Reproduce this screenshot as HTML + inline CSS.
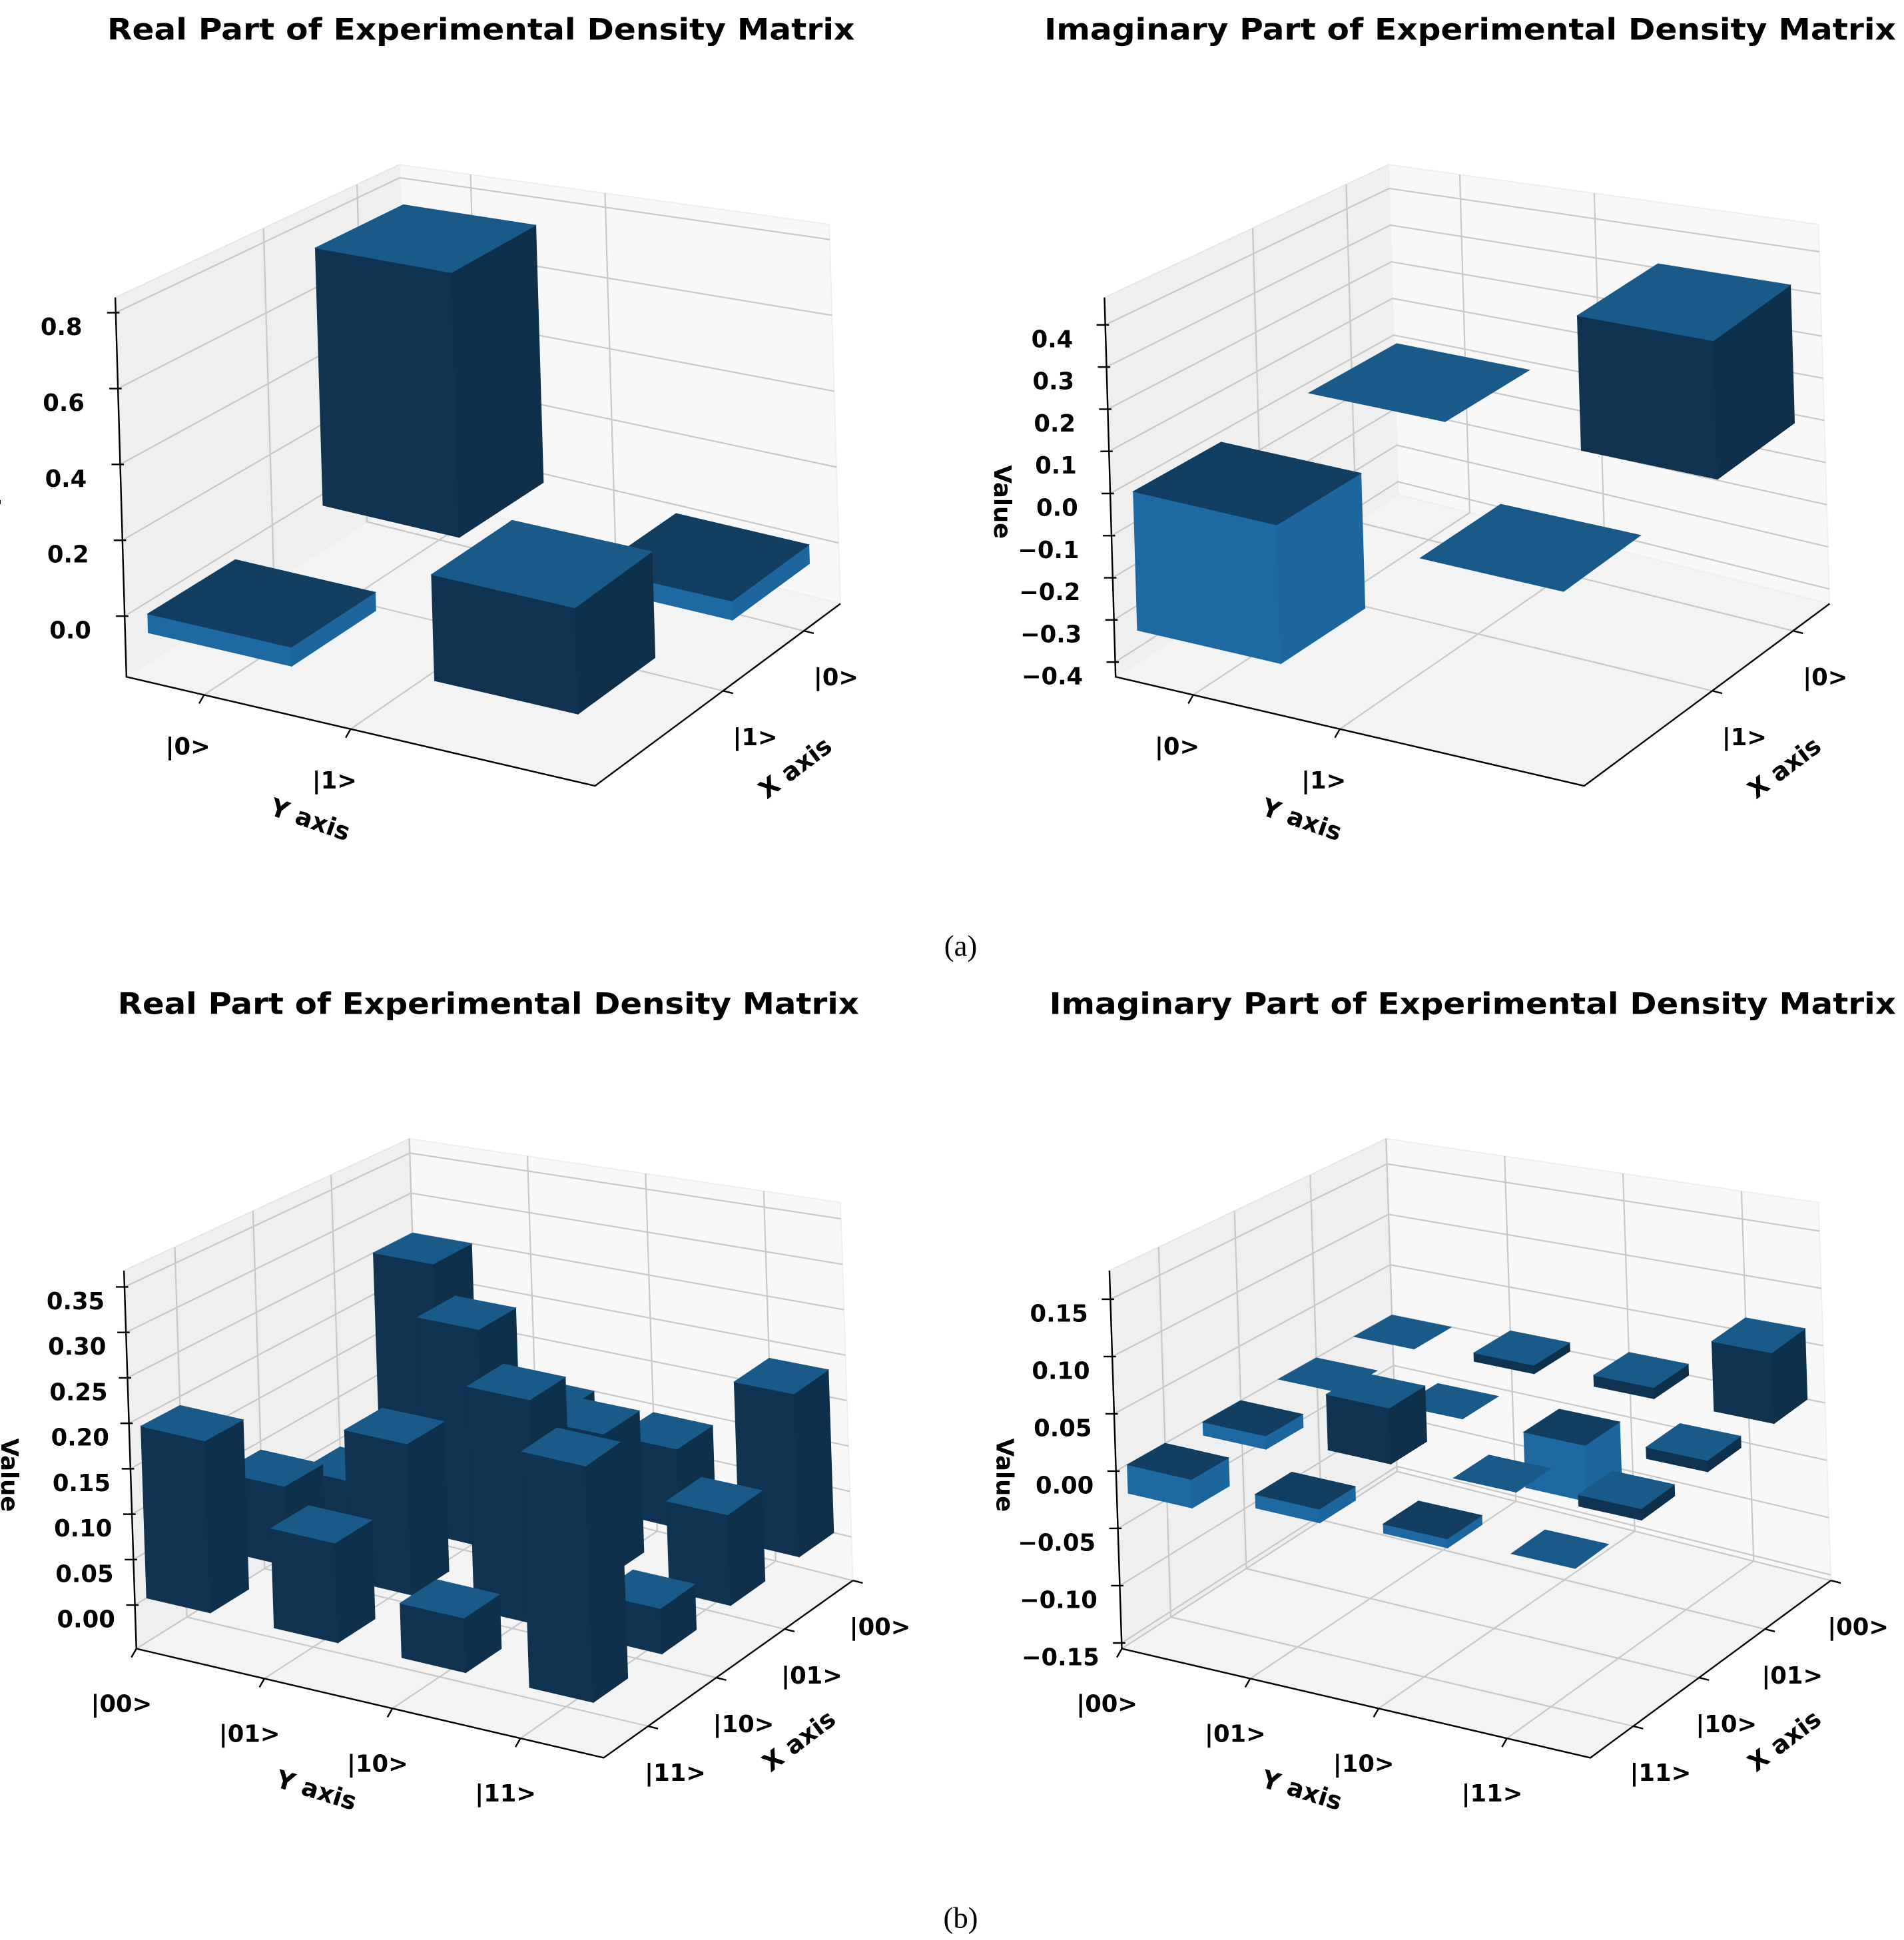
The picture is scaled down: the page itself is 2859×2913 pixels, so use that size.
<!DOCTYPE html>
<html><head><meta charset="utf-8"><title>Experimental Density Matrix</title>
<style>
html,body{margin:0;padding:0;background:#fff;}
svg{display:block;}
text{font-family:"DejaVu Sans","Liberation Sans",sans-serif;font-weight:bold;fill:#000;}
.cap{font-family:"Liberation Serif",serif;font-weight:normal;}
</style></head>
<body>
<svg id="fig" xmlns="http://www.w3.org/2000/svg" width="2859" height="2913" viewBox="0 0 1536 1565" preserveAspectRatio="none">
<rect x="0" y="0" width="1536" height="1565" fill="#fff"/>
<text x="388" y="32" text-anchor="middle" font-size="24" textLength="603" lengthAdjust="spacingAndGlyphs">Real Part of Experimental Density Matrix</text>
<text x="1186" y="32" text-anchor="middle" font-size="24" textLength="687" lengthAdjust="spacingAndGlyphs">Imaginary Part of Experimental Density Matrix</text>
<text x="394" y="818" text-anchor="middle" font-size="24" textLength="598" lengthAdjust="spacingAndGlyphs">Real Part of Experimental Density Matrix</text>
<text x="1188" y="818" text-anchor="middle" font-size="24" textLength="683" lengthAdjust="spacingAndGlyphs">Imaginary Part of Experimental Density Matrix</text>
<text class="cap" x="775" y="771" text-anchor="middle" font-size="24">(a)</text>
<text class="cap" x="775" y="1555" text-anchor="middle" font-size="24">(b)</text>
</svg>
<script>
// ---------- data (rows = Y index, columns = X index) ----------
const realA = [[0.74, -0.05], [-0.05, 0.28]];
const imagA = [[0.0, -0.33], [0.33, 0.0]];
const realB = [
  [0.25, 0.04, 0.09, 0.19],
  [0.10, 0.25, 0.17, 0.11],
  [0.09, 0.16, 0.25, 0.06],
  [0.18, 0.10, 0.05, 0.26]
];
const imagB = [
  [0.0, 0.0, -0.012, -0.025],
  [0.008, 0.0, 0.05, -0.012],
  [0.01, -0.05, 0.0, -0.008],
  [0.062, 0.01, 0.01, 0.0]
];
const ketsA = ['|0>', '|1>'];
const ketsB = ['|00>', '|01>', '|10>', '|11>'];
const tickPosA_X = [0.17, 0.70];
const tickPosA_Y = [0.24, 0.75];
const tickPosB = [0, 1, 2, 3];
const zTicksRealA = [0.0, 0.2, 0.4, 0.6, 0.8];
const zLabelsRealA = ['0.0', '0.2', '0.4', '0.6', '0.8'];
const zTicksImagA = [-0.4, -0.3, -0.2, -0.1, 0.0, 0.1, 0.2, 0.3, 0.4];
const zLabelsImagA = ['\u22120.4', '\u22120.3', '\u22120.2', '\u22120.1', '0.0', '0.1', '0.2', '0.3', '0.4'];
const zTicksRealB = [0.0, 0.05, 0.10, 0.15, 0.20, 0.25, 0.30, 0.35];
const zLabelsRealB = ['0.00', '0.05', '0.10', '0.15', '0.20', '0.25', '0.30', '0.35'];
const zTicksImagB = [-0.15, -0.10, -0.05, 0.0, 0.05, 0.10, 0.15];
const zLabelsImagB = ['\u22120.15', '\u22120.10', '\u22120.05', '0.00', '0.05', '0.10', '0.15'];

// ---------- layout (positions / styles) ----------
const NS = 'http://www.w3.org/2000/svg';
const svg = document.getElementById('fig');
function mk(tag, attrs, parent) {
  const e = document.createElementNS(NS, tag);
  for (const k in attrs) e.setAttribute(k, attrs[k]);
  parent.appendChild(e);
  return e;
}
const panels = [
  {id:'real-a', data:realA, zt:zTicksRealA, zl:zLabelsRealA, kets:ketsA, xt:tickPosA_X, yt:tickPosA_Y,
   A:[102,546], B:[480,634], C:[678,487], T:[93,240], xr:[-0.07,1.54], yr:[-0.03,1.6], zr:[-0.16,0.84],
   persp:0.13, px:30, bs:6, zlx:27, yo:[-13,48], xo:[26,44], ylab:[250,668,19], xlab:[642,626,-37], vlab:[-14,405]},
  {id:'imag-a', data:imagA, zt:zTicksImagA, zl:zLabelsImagA, kets:ketsA, xt:tickPosA_X, yt:tickPosA_Y,
   A:[900,546], B:[1278,634], C:[1476,487], T:[891,240], xr:[-0.07,1.54], yr:[-0.03,1.6], zr:[-0.435,0.465],
   persp:0.13, px:30, bs:6, zlx:26, yo:[-13,48], xo:[26,44], ylab:[1050,668,19], xlab:[1440,626,-37], vlab:[802,405]},
  {id:'real-b', data:realB, zt:zTicksRealB, zl:zLabelsRealB, kets:ketsB, xt:tickPosB, yt:tickPosB,
   A:[110,1330], B:[487,1418], C:[688,1275], T:[100,1025], xr:[0,3.65], yr:[0,3.65], zr:[-0.048,0.368],
   persp:0.12, px:28, bs:0, zlx:16, yo:[-12,51], xo:[22,44], ylab:[255,1451,17], xlab:[645,1411,-37], vlab:[1,1190]},
  {id:'imag-b', data:imagB, zt:zTicksImagB, zl:zLabelsImagB, kets:ketsB, xt:tickPosB, yt:tickPosB,
   A:[905,1330], B:[1283,1418], C:[1477,1275], T:[895,1025], xr:[0,3.65], yr:[0,3.65], zr:[-0.155,0.175],
   persp:0.12, px:28, bs:0, zlx:18, yo:[-12,51], xo:[22,44], ylab:[1050,1451,17], xlab:[1440,1411,-37], vlab:[804,1190]}
];

function P(p, x, y, z) {
  const yf = (y - p.yr[0]) / (p.yr[1] - p.yr[0]);
  const xb = (p.xr[1] - x) / (p.xr[1] - p.xr[0]);
  const zf = (z - p.zr[0]) / (p.zr[1] - p.zr[0]);
  const s = 1 - p.persp * (1 - yf) * xb;
  const U = [p.B[0]-p.A[0], p.B[1]-p.A[1]];
  const V = [p.C[0]-p.B[0], p.C[1]-p.B[1]];
  const H = [p.T[0]-p.A[0], p.T[1]-p.A[1]];
  return [p.A[0] + yf*U[0] + xb*V[0] + zf*s*H[0] + p.px*xb*(1-yf),
          p.A[1] + yf*U[1] + xb*V[1] + zf*s*H[1]];
}
function pts(arr, dx) { dx = dx || 0; return arr.map(a => (a[0]+dx).toFixed(1) + ',' + a[1].toFixed(1)).join(' '); }

panels.forEach(p => {
  const g = mk('g', {}, svg);
  
  
  const [x0, x1] = p.xr, [y0, y1] = p.yr, [z0, z1] = p.zr;

  const paneLeft = mk('polygon', {points: pts([P(p,x1,y0,z0), P(p,x0,y0,z0), P(p,x0,y0,z1), P(p,x1,y0,z1)]), fill:'#efefef', stroke:'#e6e6e6', 'stroke-width':1}, g);
  
  
  const paneBack = mk('polygon', {points: pts([P(p,x0,y0,z0), P(p,x0,y1,z0), P(p,x0,y1,z1), P(p,x0,y0,z1)]), fill:'#f7f7f7', stroke:'#eeeeee', 'stroke-width':1}, g);
  
  
  const paneFloor = mk('polygon', {points: pts([P(p,x1,y0,z0), P(p,x1,y1,z0), P(p,x0,y1,z0), P(p,x0,y0,z0)]), fill:'#f3f3f3', stroke:'#eeeeee', 'stroke-width':1}, g);
  
  

  const grid = mk('g', {stroke:'#c9c9c9', 'stroke-width':1.2, fill:'none'}, g);
  
  
  p.zt.forEach(t => {
    mk('polyline', {points: pts([P(p,x1,y0,t), P(p,x0,y0,t), P(p,x0,y1,t)])}, grid);
  });
  p.xt.forEach(t => {
    mk('polyline', {points: pts([P(p,t,y0,z1), P(p,t,y0,z0), P(p,t,y1,z0)])}, grid);
  });
  p.yt.forEach(t => {
    mk('polyline', {points: pts([P(p,x1,t,z0), P(p,x0,t,z0), P(p,x0,t,z1)])}, grid);
  });

  const ax = mk('g', {stroke:'#000', 'stroke-width':1.3, fill:'none'}, g);
  
  
  mk('polyline', {points: pts([P(p,x1,y0,z1), P(p,x1,y0,z0), P(p,x1,y1,z0), P(p,x0,y1,z0)])}, ax);

  p.zt.forEach((t, k) => {
    const q = P(p, x1, y0, t);
    mk('line', {x1:q[0]-7, y1:q[1], x2:q[0]+3, y2:q[1]}, ax);
    const lb = mk('text', {x:q[0]-p.zlx, y:q[1]+18, 'text-anchor':'end', 'font-size':19}, g);
    lb.textContent = p.zl[k];
    
    
  });
  p.yt.forEach((t, k) => {
    const q = P(p, x1, t, z0);
    mk('line', {x1:q[0], y1:q[1], x2:q[0]-4, y2:q[1]+7}, ax);
    const lb = mk('text', {x:q[0]+p.yo[0], y:q[1]+p.yo[1], 'text-anchor':'middle', 'font-size':19}, g);
    lb.textContent = p.kets[k];
    
    
  });
  p.xt.forEach((t, k) => {
    const q = P(p, t, y1, z0);
    mk('line', {x1:q[0], y1:q[1], x2:q[0]+8, y2:q[1]+2}, ax);
    const lb = mk('text', {x:q[0]+p.xo[0], y:q[1]+p.xo[1], 'text-anchor':'middle', 'font-size':19}, g);
    lb.textContent = p.kets[k];
    
    
  });
  const yl = mk('text', {x:p.ylab[0], y:p.ylab[1], 'text-anchor':'middle', 'font-size':20, transform:'rotate(' + p.ylab[2] + ' ' + p.ylab[0] + ' ' + (p.ylab[1]-6) + ')'}, g);
  yl.textContent = 'Y axis';
  
  
  const xl = mk('text', {x:p.xlab[0], y:p.xlab[1], 'text-anchor':'middle', 'font-size':20, transform:'rotate(' + p.xlab[2] + ' ' + p.xlab[0] + ' ' + (p.xlab[1]-6) + ')'}, g);
  xl.textContent = 'X axis';
  
  
  const vl = mk('text', {x:p.vlab[0], y:p.vlab[1], 'text-anchor':'middle', 'font-size':19, transform:'rotate(90 ' + p.vlab[0] + ' ' + p.vlab[1] + ')'}, g);
  vl.textContent = 'Value';
  
  

  const bars = [];
  p.data.forEach((row, i) => row.forEach((v, j) => bars.push({i, j, v})));
  bars.sort((a, b) => (a.i + a.j) - (b.i + b.j) || a.j - b.j);
  const w = 0.5;
  bars.forEach(b => {
    const bg = mk('g', {}, g);
    
    
    const bx0 = b.j, bx1 = b.j + w, by0 = b.i, by1 = b.i + w;
    const lo = Math.min(0, b.v), hi = Math.max(0, b.v);
    let topC, frontC, sideC;
    if (b.v > 0) { topC = '#1a5a88'; frontC = '#0f3351'; sideC = '#0e304b'; }
    else if (b.v < 0) { topC = '#123f61'; frontC = '#1e69a1'; sideC = '#1c669d'; }
    else { topC = '#1a5a88'; }
    const d = p.bs;
    if (b.v !== 0) {
      mk('polygon', {points: pts([P(p,bx1,by0,lo), P(p,bx1,by1,lo), P(p,bx1,by1,hi), P(p,bx1,by0,hi)], d), fill:frontC, stroke:frontC, 'stroke-width':0.6}, bg);
      mk('polygon', {points: pts([P(p,bx1,by1,lo), P(p,bx0,by1,lo), P(p,bx0,by1,hi), P(p,bx1,by1,hi)], d), fill:sideC, stroke:sideC, 'stroke-width':0.6}, bg);
    }
    mk('polygon', {points: pts([P(p,bx1,by0,hi), P(p,bx1,by1,hi), P(p,bx0,by1,hi), P(p,bx0,by0,hi)], d), fill:topC, stroke:topC, 'stroke-width':0.6}, bg);
  });
});
</script>
</body></html>
